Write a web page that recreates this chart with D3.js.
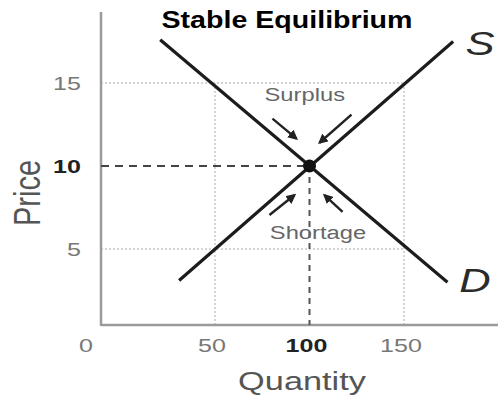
<!DOCTYPE html>
<html>
<head>
<meta charset="utf-8">
<script src="https://cdn.jsdelivr.net/npm/d3@7"></script>
<style>
html,body{margin:0;padding:0;background:#fff;}
svg{display:block;}
text{font-family:"Liberation Sans",Arial,sans-serif;}
</style>
</head>
<body>
<svg id="chart" width="498" height="403"></svg>
<script>
// ---- data ----
const title = "Stable Equilibrium";
const quantityTicks = [50, 100, 150];
const priceTicks = [5, 10, 15];
const originLabel = "0";
const demandQ = [21, 173];
const demandP = [17.6, 3.0];
const supplyQ = [31, 176];
const supplyP = [3.1, 17.5];
const equilibriumQ = 100;
const equilibriumP = 10;
const guideQ = [50, 150];
const guideP = [5, 15];
// arrows: [fromQ, fromP, toQ, toP]
const surplusArrows = [[80.4, 12.85, 93.1, 11.65], [122.2, 13.1, 105.3, 11.4]];
const shortageArrows = [[78.8, 7.05, 92.1, 8.25], [117.5, 7.23, 107.9, 8.25]];
const surplusLabel = {text: "Surplus", q: 97.5, p: 13.9};
const shortageLabel = {text: "Shortage", q: 104.5, p: 5.6};
const xTitle = "Quantity";
const yTitle = "Price";

// ---- layout ----
const W = 498, H = 403;
const axisX = 101, axisY = 325, axisTop = 12;
const SX = 1.32; // horizontal stretch of original artwork text

const x = d3.scaleLinear().domain([50, 150]).range([215, 404]);
const y = d3.scaleLinear().domain([5, 15]).range([249, 83]);

const svg = d3.select("#chart");
const defs = svg.append("defs");
defs.append("marker").attr("id", "ah").attr("viewBox", "0 0 10 10")
  .attr("refX", 8).attr("refY", 5).attr("markerWidth", 10).attr("markerHeight", 10)
  .attr("markerUnits", "userSpaceOnUse").attr("orient", "auto")
  .append("path").attr("d", "M0,0 L10,5 L0,10 Z").attr("fill", "#222");

function stext(g, tx, ty, str, size, opts = {}) {
  const t = g.append("g").attr("transform", `translate(${tx},${ty}) scale(${opts.sx || SX},1)`)
    .append("text").attr("x", 0).attr("y", 0)
    .attr("text-anchor", opts.anchor || "middle")
    .attr("font-size", size)
    .attr("fill", opts.fill || "#666")
    .attr("font-weight", opts.weight || "normal")
    .attr("font-style", opts.style || "normal")
    .text(str);
  return t;
}

// guide (dotted light) lines
const guides = svg.append("g").attr("stroke", "#c8c8c8").attr("stroke-width", 1.5)
  .attr("stroke-dasharray", "2,2").attr("fill", "none");
guideQ.forEach(q => guides.append("line")
  .attr("x1", x(q)).attr("x2", x(q)).attr("y1", y(d3.max(guideP))).attr("y2", axisY));
guideP.forEach(p => guides.append("line")
  .attr("x1", axisX).attr("x2", x(d3.max(guideQ))).attr("y1", y(p)).attr("y2", y(p)));

// axes
const axisG = svg.append("g").attr("stroke", "#9a9a9a").attr("stroke-width", 2.5);
axisG.append("line").attr("x1", axisX).attr("x2", axisX).attr("y1", axisTop).attr("y2", axisY + 1);
axisG.append("line").attr("x1", axisX).attr("x2", W).attr("y1", axisY).attr("y2", axisY);

// equilibrium dashed lines
svg.append("line").attr("x1", axisX).attr("x2", x(equilibriumQ))
  .attr("y1", y(equilibriumP)).attr("y2", y(equilibriumP))
  .attr("stroke", "#444").attr("stroke-width", 2).attr("stroke-dasharray", "8,6");
svg.append("line").attr("x1", x(equilibriumQ)).attr("x2", x(equilibriumQ))
  .attr("y1", y(equilibriumP)).attr("y2", axisY)
  .attr("stroke", "#555").attr("stroke-width", 2).attr("stroke-dasharray", "6,5");

// supply & demand lines
const line = d3.line().x(d => x(d[0])).y(d => y(d[1]));
svg.append("path").attr("d", line(d3.zip(demandQ, demandP)))
  .attr("stroke", "#1c1c1c").attr("stroke-width", 3.2).attr("fill", "none");
svg.append("path").attr("d", line(d3.zip(supplyQ, supplyP)))
  .attr("stroke", "#1c1c1c").attr("stroke-width", 3.2).attr("fill", "none");

// equilibrium dot
svg.append("circle").attr("cx", x(equilibriumQ)).attr("cy", y(equilibriumP)).attr("r", 6.5).attr("fill", "#111");

// arrows
svg.append("g").selectAll("line").data(surplusArrows.concat(shortageArrows)).join("line")
  .attr("x1", d => x(d[0])).attr("y1", d => y(d[1]))
  .attr("x2", d => x(d[2])).attr("y2", d => y(d[3]))
  .attr("stroke", "#222").attr("stroke-width", 2.4).attr("marker-end", "url(#ah)");

// Surplus / Shortage labels
stext(svg, x(surplusLabel.q), y(surplusLabel.p), surplusLabel.text, 18, {fill: "#666"});
stext(svg, x(shortageLabel.q), y(shortageLabel.p), shortageLabel.text, 18, {fill: "#666"});

// S, D labels
stext(svg, 480, 55, "S", 33, {fill: "#2a2a2a", style: "italic"});
stext(svg, 475, 292, "D", 33, {fill: "#2a2a2a", style: "italic"});

// tick labels
quantityTicks.forEach(v => {
  const eq = v === equilibriumQ;
  stext(svg, x(v) - 3, 352, String(v), 19, {fill: eq ? "#222" : "#777", weight: eq ? "bold" : "normal"});
});
stext(svg, 86, 352, originLabel, 19, {fill: "#777"});
priceTicks.forEach(v => {
  const eq = v === equilibriumP;
  stext(svg, 81, y(v) + 7, String(v), 19, {anchor: "end", fill: eq ? "#222" : "#777", weight: eq ? "bold" : "normal"});
});

// axis titles
stext(svg, 302, 390, xTitle, 26, {fill: "#555"});
svg.append("g").attr("transform", "translate(40,193) rotate(-90) scale(1,1.3)")
  .append("text").attr("text-anchor", "middle").attr("font-size", 29).attr("fill", "#555").text(yTitle);

// title
svg.append("text").attr("x", 287).attr("y", 28).attr("text-anchor", "middle")
  .attr("font-family", "Inter, 'Noto Sans', sans-serif").attr("font-weight", 700)
  .attr("font-size", 23).attr("fill", "#000")
  .attr("textLength", 251).attr("lengthAdjust", "spacingAndGlyphs")
  .text(title);
</script>
</body>
</html>
